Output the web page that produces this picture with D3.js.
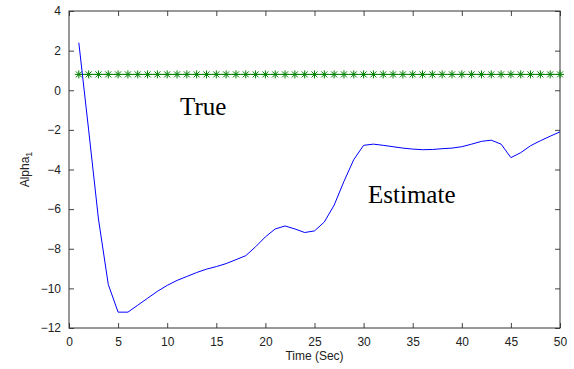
<!DOCTYPE html>
<html>
<head>
<meta charset="utf-8">
<script src="https://cdn.jsdelivr.net/npm/d3@7"></script>
<style>
  body { margin: 0; background: #fff; }
  text { font-family: "Liberation Sans", Arial, sans-serif; }
</style>
</head>
<body>
<div id="canvas"></div>
<script>
// DATA
const timeSec = d3.range(1, 51);
const estimate = [
  2.4, -2.0, -6.5, -9.8, -11.2, -11.2, -10.85, -10.5, -10.15, -9.85,
  -9.6, -9.4, -9.2, -9.03, -8.9, -8.75, -8.55, -8.35, -7.9, -7.4,
  -7.0, -6.85, -7.0, -7.18, -7.1, -6.65, -5.8, -4.6, -3.5, -2.78,
  -2.72, -2.78, -2.85, -2.92, -2.97, -3.0, -2.99, -2.95, -2.92, -2.85,
  -2.72, -2.58, -2.52, -2.72, -3.4, -3.15, -2.8, -2.55, -2.32, -2.1
];
const trueValue = 0.8;
const xTicks = [0, 5, 10, 15, 20, 25, 30, 35, 40, 45, 50];
const yTicks = [-12, -10, -8, -6, -4, -2, 0, 2, 4];

// DIMENSIONS
const width = 574;
const height = 369;
const margin = { top: 11, right: 14, bottom: 41, left: 69 };
const plot_width = width - margin.left - margin.right;
const plot_height = height - margin.top - margin.bottom;

const canvas = d3.select("#canvas")
  .append("svg")
  .attr("width", width)
  .attr("height", height)
  .style("background", "#fff");

const plot = canvas.append("g")
  .attr("transform", `translate(${margin.left},${margin.top})`);

// SCALES
const scaleX = d3.scaleLinear().domain([0, 50]).range([0, plot_width]);
const scaleY = d3.scaleLinear().domain([-12, 4]).range([plot_height, 0]);

// AXES (matlab style: ticks inside, box around)
const tickLen = 5;
const xAx = plot.append("g")
  .attr("transform", `translate(0,${plot_height})`)
  .call(d3.axisBottom(scaleX).tickValues(xTicks).tickSize(-tickLen).tickPadding(9).tickSizeOuter(0));
const xTop = plot.append("g")
  .call(d3.axisTop(scaleX).tickValues(xTicks).tickSize(-tickLen).tickFormat("").tickSizeOuter(0));
const yAx = plot.append("g")
  .call(d3.axisLeft(scaleY).tickValues(yTicks).tickSize(-tickLen).tickPadding(8).tickSizeOuter(0));
const yRight = plot.append("g")
  .attr("transform", `translate(${plot_width},0)`)
  .call(d3.axisRight(scaleY).tickValues(yTicks).tickSize(-tickLen).tickFormat("").tickSizeOuter(0));

[xAx, xTop, yAx, yRight].forEach(a => {
  a.select(".domain").remove();
  a.selectAll(".tick line").attr("stroke", "#444");
  a.selectAll(".tick text")
    .attr("fill", "#222")
    .style("font-size", "12px")
    .style("font-family", "'Liberation Sans', Arial, sans-serif");
});

plot.append("rect")
  .attr("width", plot_width)
  .attr("height", plot_height)
  .attr("fill", "none")
  .attr("stroke", "#333")
  .attr("stroke-width", 1);

// TRUE LINE
plot.append("line")
  .attr("x1", scaleX(timeSec[0]))
  .attr("x2", scaleX(timeSec[timeSec.length - 1]))
  .attr("y1", scaleY(trueValue))
  .attr("y2", scaleY(trueValue))
  .attr("stroke", "#008000")
  .attr("stroke-width", 1);

const star = plot.append("g").attr("stroke", "#008000").attr("stroke-width", 1);
star.selectAll("path")
  .data(timeSec)
  .join("path")
  .attr("transform", d => `translate(${scaleX(d)},${scaleY(trueValue)})`)
  .attr("d", "M-4,0H4M0,-4V4M-3,-3L3,3M-3,3L3,-3");

// ESTIMATE LINE
const line = d3.line()
  .x((d, i) => scaleX(timeSec[i]))
  .y(d => scaleY(d));

plot.append("path")
  .datum(estimate)
  .attr("fill", "none")
  .attr("stroke", "#0000ff")
  .attr("stroke-width", 1)
  .attr("d", line);

// ANNOTATIONS
canvas.append("text")
  .attr("x", 180)
  .attr("y", 115)
  .style("font-family", "'Liberation Serif', 'Times New Roman', serif")
  .style("font-size", "25px")
  .attr("fill", "#000")
  .text("True");

canvas.append("text")
  .attr("x", 368)
  .attr("y", 203)
  .style("font-family", "'Liberation Serif', 'Times New Roman', serif")
  .style("font-size", "25px")
  .attr("fill", "#000")
  .text("Estimate");

// LABELS
canvas.append("text")
  .attr("x", margin.left + plot_width / 2)
  .attr("y", 360)
  .attr("text-anchor", "middle")
  .style("font-size", "12px")
  .attr("fill", "#222")
  .text("Time (Sec)");

const yLabel = canvas.append("text")
  .attr("transform", `translate(29,${margin.top + scaleY(-4)}) rotate(-90)`)
  .attr("text-anchor", "middle")
  .style("font-size", "12px")
  .attr("fill", "#222");
yLabel.append("tspan").text("Alpha");
yLabel.append("tspan").attr("dy", 3).style("font-size", "9px").text("1");
</script>
</body>
</html>
